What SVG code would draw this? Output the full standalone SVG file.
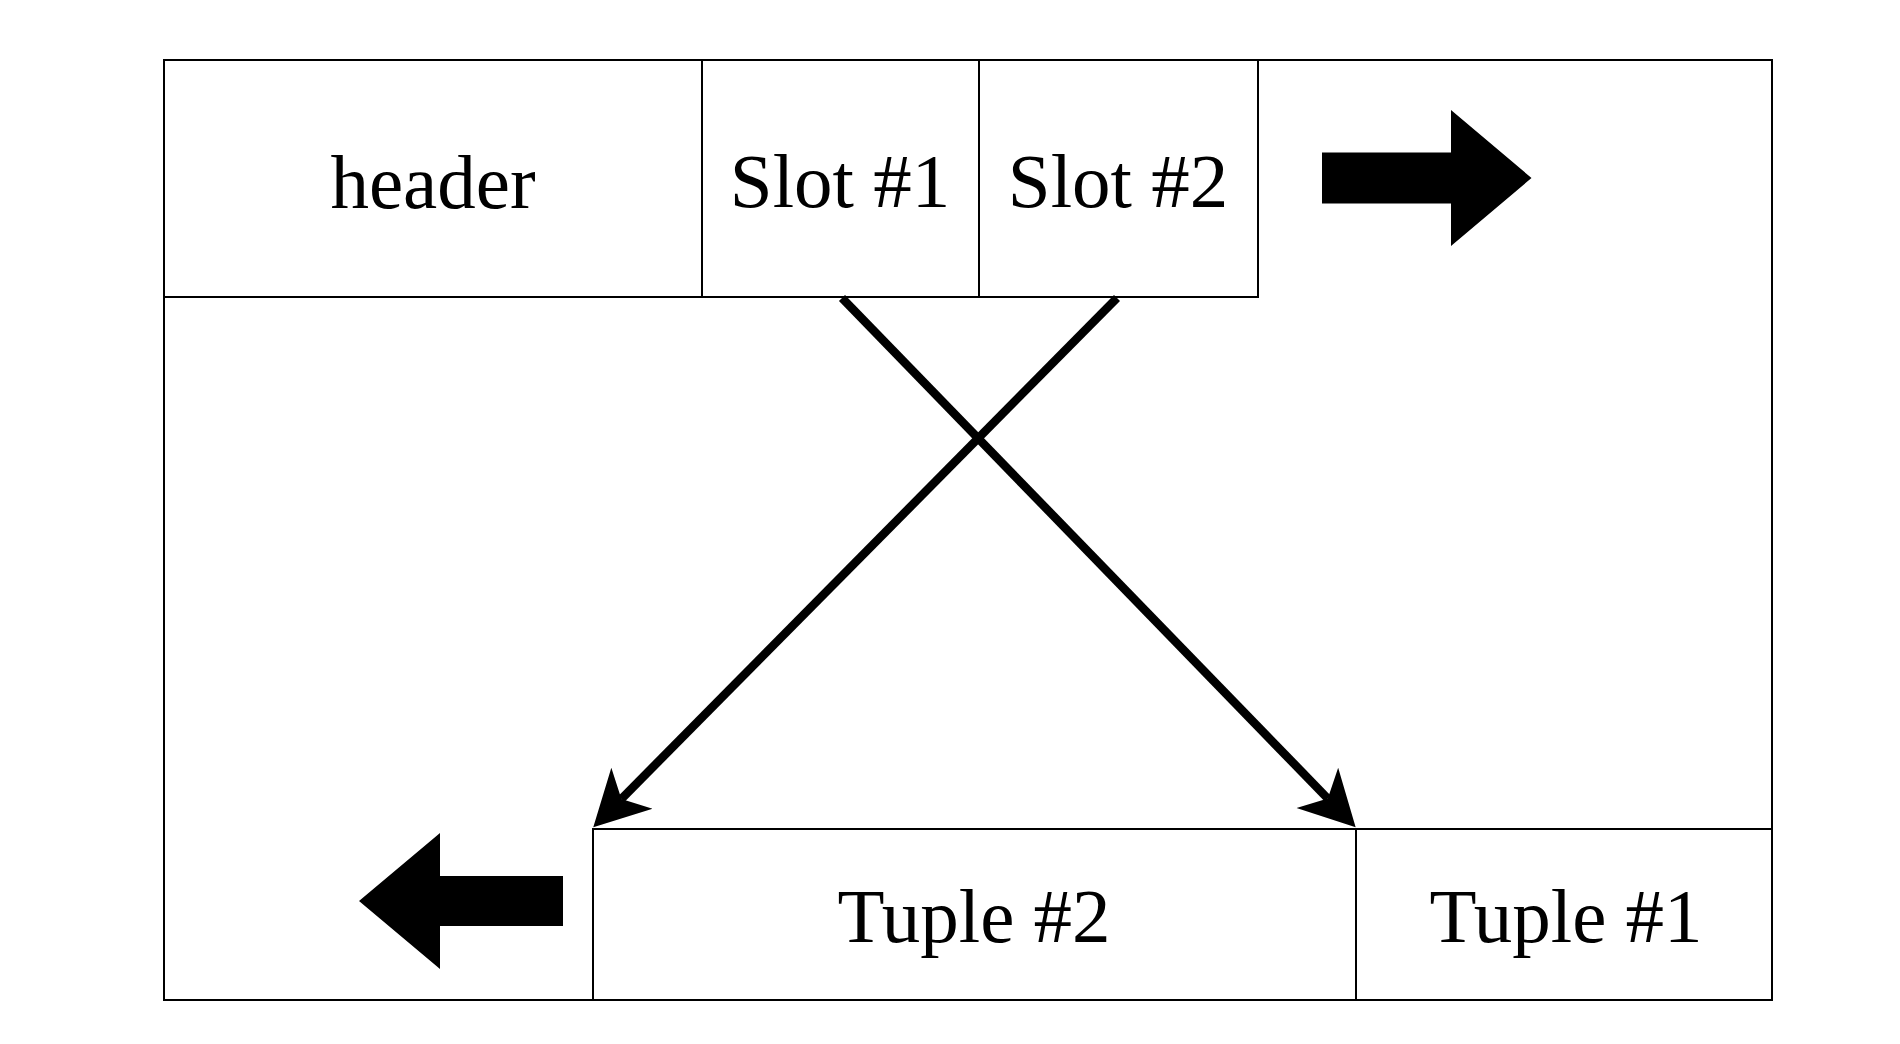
<svg xmlns="http://www.w3.org/2000/svg" width="1900" height="1044" viewBox="0 0 1900 1044">
<style>
.box{fill:none;stroke:#000;stroke-width:2}
.lbl{font-family:"Liberation Serif","Times New Roman",serif;font-size:77px;fill:#000;text-anchor:middle}
.conn{stroke:#000;stroke-width:8.5;fill:none;marker-end:url(#ah)}
.blk{fill:#000;stroke:none}
</style>
<defs>
<marker id="ah" markerUnits="userSpaceOnUse" markerWidth="56" markerHeight="60" refX="15" refY="29" orient="auto" viewBox="0 0 56 58">
<path d="M0,0 L55,29 L0,58 L15,29 z" fill="#000"/>
</marker>
</defs>
<rect width="1900" height="1044" fill="#fff"/>
<g id="page">
<rect class="box" x="164" y="60" width="1608" height="940"/>
</g>
<g id="header">
<rect class="box" x="164" y="60" width="538" height="237"/>
<text class="lbl" x="433" y="208">header</text>
</g>
<g id="slot1">
<rect class="box" x="702" y="60" width="277" height="237"/>
<text class="lbl" x="840" y="207">Slot #1</text>
</g>
<g id="slot2">
<rect class="box" x="979" y="60" width="279" height="237"/>
<text class="lbl" x="1118" y="207">Slot #2</text>
</g>
<g id="tuple2">
<rect class="box" x="593" y="829" width="763" height="171"/>
<text class="lbl" x="974" y="942">Tuple #2</text>
</g>
<g id="tuple1">
<rect class="box" x="1356" y="829" width="416" height="171"/>
<text class="lbl" x="1566" y="942">Tuple #1</text>
</g>
<g id="arrow-right">
<polygon class="blk" points="1322,152.5 1451,152.5 1451,110 1531.5,178 1451,246 1451,203.5 1322,203.5"/>
</g>
<g id="arrow-left">
<polygon class="blk" points="359,901 440,833 440,876 563,876 563,926 440,926 440,969"/>
</g>
<g id="connectors">
<line class="conn" x1="842" y1="298" x2="1327.8" y2="798.6"/>
<line class="conn" x1="1117" y1="298" x2="621.4" y2="798.9"/>
</g>
</svg>
